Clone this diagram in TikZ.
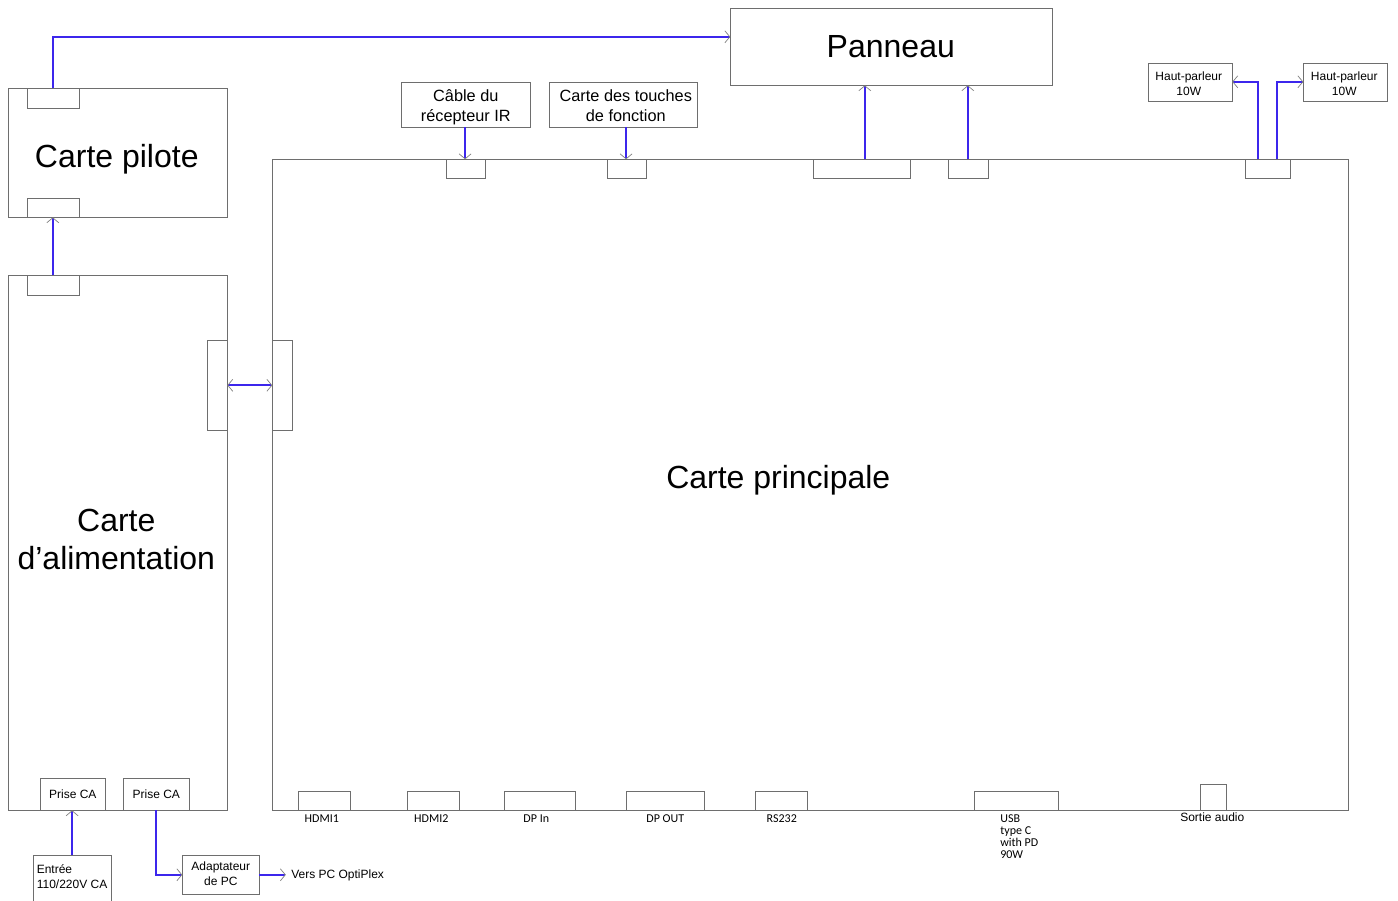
\documentclass[tikz,border=0pt]{standalone}
\usepackage{fontspec}
\setmainfont{Liberation Sans}
\newfontfamily\portfont{Carlito}
\usetikzlibrary{arrows.meta,calc}
\definecolor{edge}{HTML}{6E6E6E}
\definecolor{wire}{HTML}{3C26EC}
\definecolor{tipc}{HTML}{808080}
\tikzset{
  x=1pt,y=-1pt,
  lbl/.style={inner sep=0pt,outer sep=0pt,align=center,text=black},
  huge lbl/.style={lbl,font=\fontsize{32}{38}\selectfont},
  mid lbl/.style={lbl,font=\fontsize{16.3}{20}\selectfont},
  small lbl/.style={lbl,font=\fontsize{12}{15}\selectfont},
  port lbl/.style={lbl,font=\portfont\fontsize{12}{12}\selectfont},
  wirearrow/.style={draw=wire,line width=2pt,-{Straight Barb[length=5pt,width=12pt,line width=0.7pt,color=tipc]}},
  wirearrows/.style={draw=wire,line width=2pt,{Straight Barb[length=5pt,width=12pt,line width=0.7pt,color=tipc]}-{Straight Barb[length=5pt,width=12pt,line width=0.7pt,color=tipc]}},
}
\newcommand{\bx}[5]{\node[draw=edge,line width=1pt,inner sep=0pt,outer sep=0pt,minimum width=#4pt-#2pt,minimum height=#5pt-#3pt] (#1) at ({(#2+#4)/2+0.5},{(#3+#5)/2+0.5}) {};}
\begin{document}
\begin{tikzpicture}
\useasboundingbox (0.2,0.2) rectangle (1398.2,900.2);
% boards
\bx{panel}{730}{8}{1052}{85}
\bx{pilot}{8}{88}{227}{217}
\bx{power}{8}{275}{227}{810}
\bx{main}{272}{159}{1348}{810}
\bx{pilotTop}{27}{88}{79}{108}
\bx{pilotBot}{27}{198}{79}{217}
\bx{powerTop}{27}{275}{79}{295}
\bx{powerSide}{207}{340}{227}{430}
\bx{mainSide}{272}{340}{292}{430}
\bx{irBox}{401}{82}{530}{127}
\bx{keyBox}{549}{82}{697}{127}
\bx{irConn}{446}{159}{485}{178}
\bx{keyConn}{607}{159}{646}{178}
\bx{panConnA}{813}{159}{910}{178}
\bx{panConnB}{948}{159}{988}{178}
\bx{spkConn}{1245}{159}{1290}{178}
\bx{spkL}{1148}{63}{1232}{101}
\bx{spkR}{1303}{63}{1387}{101}
\bx{hdmiA}{298}{791}{350}{810}
\bx{hdmiB}{407}{791}{459}{810}
\bx{dpIn}{504}{791}{575}{810}
\bx{dpOut}{626}{791}{704}{810}
\bx{rs}{755}{791}{807}{810}
\bx{usb}{974}{791}{1058}{810}
\bx{audio}{1200}{784}{1226}{810}
\bx{acA}{40}{778}{105}{810}
\bx{acB}{123}{778}{189}{810}
\bx{acIn}{33}{855}{111}{906}
\bx{adapter}{182}{855}{259}{894}
% labels
\node[huge lbl] (tPanel) at (891,47) {Panneau};
\node[huge lbl] (tPilot) at (117,159.5) {Carte pilote};
\node[huge lbl] (tPower) at (116.5,539.5) {Carte\\d’alimentation};
\node[huge lbl] (tMain) at (778.5,480.5) {Carte principale};
\node[mid lbl] (tIr) at (466,107.5) {Câble du\\récepteur IR};
\node[mid lbl] (tKey) at (626,106) {Carte des touches\\de fonction};
\node[small lbl] (tSpkL) at (1189,84) {Haut-parleur\\10W};
\node[small lbl] (tSpkR) at (1344.5,84) {Haut-parleur\\10W};
\node[small lbl] (tAcA) at (73,794.5) {Prise CA};
\node[small lbl] (tAcB) at (156.5,794.5) {Prise CA};
\node[small lbl,align=left,anchor=west] (tIn) at (37,876.5) {Entrée\\110/220V CA};
\node[small lbl] (tAd) at (221,874) {Adaptateur\\de PC};
\node[small lbl,anchor=west] (tPc) at (291.5,875.5) {Vers PC OptiPlex};
\node[small lbl] (tAudio) at (1212.5,817.5) {Sortie audio};
\node[port lbl] (tH1) at (322,819) {HDMI1};
\node[port lbl] (tH2) at (431.5,819) {HDMI2};
\node[port lbl] (tDi) at (536.5,819) {DP In};
\node[port lbl] (tDo) at (665.5,819) {DP OUT};
\node[port lbl] (tRs) at (782,819) {RS232};
\node[port lbl,align=left,anchor=north west] (tUsb) at (1000.5,814.5) {USB\\type C\\with PD\\90W};
% free connector ends
\coordinate (panelIn) at (730.5,37);
\coordinate (panelA) at (865,85.5);
\coordinate (panelB) at (968,85.5);
\coordinate (spkLa) at (1258,159.5);
\coordinate (spkRa) at (1277,159.5);
\coordinate (spkLb) at (1232.5,82);
\coordinate (spkRb) at (1303.5,82);
\coordinate (irX) at (465.3,0);
\coordinate (keyX) at (626.3,0);
\coordinate (acX) at (72.3,0);
\coordinate (adIn) at (182.5,875);
\coordinate (pcEnd) at (286,875);
\coordinate (adOut) at (259.5,875);
\coordinate (pilotX) at (53,0);
% connectors
\draw[wirearrow] (pilotX |- pilotTop.north) |- (panelIn);
\draw[wirearrow] (pilotX |- powerTop.north) -- (pilotX |- pilotBot.south);
\draw[wirearrows] (powerSide.east) -- (mainSide.west);
\draw[wirearrow] (irX |- irBox.south) -- (irX |- irConn.north);
\draw[wirearrow] (keyX |- keyBox.south) -- (keyX |- keyConn.north);
\draw[wirearrow] (panelA |- panConnA.north) -- (panelA);
\draw[wirearrow] (panelB |- panConnB.north) -- (panelB);
\draw[wirearrow] (spkLa) |- (spkLb);
\draw[wirearrow] (spkRa) |- (spkRb);
\draw[wirearrow] (acX |- acIn.north) -- (acX |- acA.south);
\draw[wirearrow] (acB.south) |- (adIn);
\draw[wirearrow] (adOut) -- (pcEnd);
\end{tikzpicture}
\end{document}
